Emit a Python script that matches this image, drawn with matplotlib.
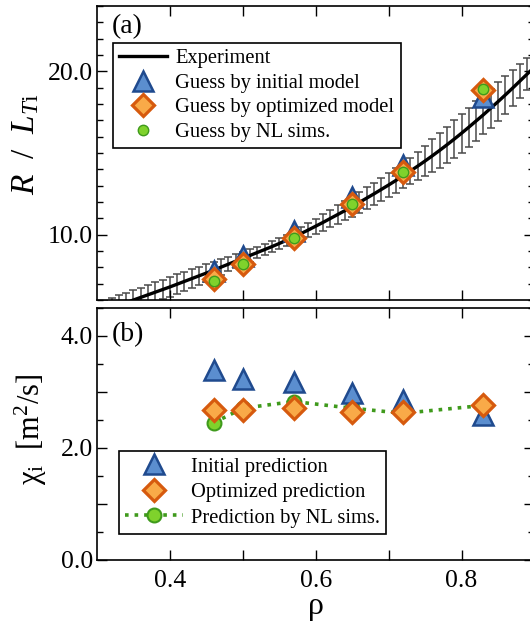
import matplotlib
matplotlib.use('Agg')
import matplotlib.pyplot as plt
from matplotlib.ticker import MultipleLocator, FixedLocator, FixedFormatter

plt.rcParams['font.family'] = ['Liberation Serif', 'DejaVu Serif']
plt.rcParams['mathtext.fontset'] = 'custom'
plt.rcParams['mathtext.rm'] = 'Liberation Serif'
plt.rcParams['mathtext.it'] = 'Liberation Serif:italic'

########### Datos ###########
# perfil experimental R/L_Ti con barras de error
rho_exp = [0.31, 0.32, 0.33, 0.34, 0.35, 0.36, 0.37, 0.38, 0.39, 0.40,
           0.41, 0.42, 0.43, 0.44, 0.45, 0.46, 0.47, 0.48, 0.49, 0.50,
           0.51, 0.52, 0.53, 0.54, 0.55, 0.56, 0.57, 0.58, 0.59, 0.60,
           0.61, 0.62, 0.63, 0.64, 0.65, 0.66, 0.67, 0.68, 0.69, 0.70,
           0.71, 0.72, 0.73, 0.74, 0.75, 0.76, 0.77, 0.78, 0.79, 0.80,
           0.81, 0.82, 0.83, 0.84, 0.85, 0.86, 0.87, 0.88, 0.89, 0.90]
rlt_exp = [5.36, 5.52, 5.68, 5.84, 6.00, 6.16, 6.32, 6.48, 6.64, 6.80,
           6.97, 7.14, 7.31, 7.48, 7.65, 7.83, 8.01, 8.19, 8.37, 8.55,
           8.73, 8.91, 9.09, 9.27, 9.46, 9.66, 9.86, 10.07, 10.29, 10.52,
           10.75, 10.99, 11.23, 11.47, 11.72, 11.98, 12.24, 12.50, 12.77, 13.04,
           13.32, 13.61, 13.90, 14.20, 14.51, 14.83, 15.16, 15.50, 15.85, 16.21,
           16.58, 16.96, 17.34, 17.74, 18.14, 18.55, 18.97, 19.40, 19.83, 20.26]
rlt_err = [0.60, 0.60, 0.60, 0.60, 0.60, 0.60, 0.60, 0.60, 0.60, 0.60,
           0.60, 0.60, 0.58, 0.56, 0.54, 0.50, 0.47, 0.44, 0.42, 0.40,
           0.38, 0.36, 0.35, 0.35, 0.35, 0.35, 0.36, 0.38, 0.42, 0.46,
           0.50, 0.54, 0.57, 0.60, 0.62, 0.65, 0.67, 0.69, 0.71, 0.73,
           0.75, 0.77, 0.82, 0.88, 0.94, 1.00, 1.06, 1.12, 1.16, 1.20,
           1.20, 1.20, 1.20, 1.20, 1.18, 1.15, 1.10, 1.04, 0.98, 0.92]

# radios de las simulaciones
rho_sim = [0.46, 0.50, 0.57, 0.65, 0.72, 0.83]

# (a) R/L_Ti estimado
rlt_init = [7.78, 8.70, 10.25, 12.30, 14.25, 18.45]
rlt_opt = [7.30, 8.22, 9.80, 11.90, 13.84, 18.88]
rlt_nl = [7.18, 8.22, 9.82, 11.90, 13.84, 18.90]

# (b) chi_i
chi_init = [3.39, 3.24, 3.17, 2.99, 2.86, 2.59]
chi_opt = [2.67, 2.67, 2.71, 2.65, 2.65, 2.77]
chi_nl = [2.45, 2.71, 2.83, 2.71, 2.62, 2.76]

########### Estilos ###########
c_tri_e, c_tri_f = '#1f4a8e', '#5b8ecf'
c_dia_e, c_dia_f = '#d65a0e', '#f9aa48'
c_cir_e, c_cir_f = '#3f9a1c', '#7fd22c'

fig = plt.figure(figsize=(5.30, 6.28), dpi=100)
W, H = 530.0, 628.0
x0, x1 = 97.0, 97.0 + 0.6 * 729.0
ax1 = fig.add_axes([x0 / W, 1 - 300 / H, (x1 - x0) / W, 294 / H])
ax2 = fig.add_axes([x0 / W, 1 - 560 / H, (x1 - x0) / W, 252 / H])

fs_tick = 18.5
fs_leg = 14.8
for ax in (ax1, ax2):
    ax.set_xlim(0.3, 0.9)
    ax.xaxis.set_major_locator(FixedLocator([0.4, 0.5, 0.6, 0.7, 0.8]))
    ax.tick_params(which='both', direction='in', top=True, right=True,
                   labelsize=fs_tick, width=1.0)
    ax.tick_params(which='major', length=7.5)
    ax.tick_params(which='minor', length=4.5)
    ax.tick_params(axis='y', pad=3)
    ax.tick_params(axis='x', pad=7)
    for s in ax.spines.values():
        s.set_linewidth(1.2)

#### Panel (a) ####
ax1.set_ylim(6, 24)
ax1.yaxis.set_minor_locator(MultipleLocator(1))
ax1.yaxis.set_major_locator(FixedLocator([0, 10, 20, 30]))
ax1.yaxis.set_major_formatter(FixedFormatter(['', '10.0', '20.0', '']))
ax1.tick_params(axis='x', labelbottom=False)

ax1.errorbar(rho_exp, rlt_exp, yerr=rlt_err, fmt='none', ecolor='#4a4a4a',
             elinewidth=1.1, capsize=3.2, capthick=1.1, zorder=1)
ax1.plot(rho_exp, rlt_exp, color='black', lw=2.4, zorder=2,
         label='Experiment')
ax1.plot(rho_sim, rlt_init, ls='none', marker='^', ms=14, mfc=c_tri_f,
         mec=c_tri_e, mew=1.8, zorder=3, label='Guess by initial model')
ax1.plot(rho_sim, rlt_opt, ls='none', marker='D', ms=11.5, mfc=c_dia_f,
         mec=c_dia_e, mew=2.3, zorder=4, label='Guess by optimized model')
ax1.plot(rho_sim, rlt_nl, ls='none', marker='o', ms=7.5, mfc=c_cir_f,
         mec=c_cir_e, mew=1.0, zorder=5, label='Guess by NL sims.')

leg1 = ax1.legend(loc='upper left', bbox_to_anchor=(0.036, 0.875),
                  borderaxespad=0, fontsize=fs_leg, frameon=True,
                  fancybox=False, edgecolor='black', framealpha=1,
                  numpoints=1, handlelength=2.35, handletextpad=0.4,
                  labelspacing=0.25, borderpad=0.3)
leg1.get_frame().set_linewidth(1.2)

ax1.text(0.034, 0.972, '(a)', transform=ax1.transAxes, fontsize=20,
         ha='left', va='top')
ax1.set_ylabel(r'$R\ \ /\ \ L_{T\mathrm{i}}$', fontsize=24)
ax1.yaxis.set_label_coords(-0.128, 0.53)

#### Panel (b) ####
ax2.set_ylim(0, 4.5)
ax2.yaxis.set_minor_locator(MultipleLocator(0.5))
ax2.yaxis.set_major_locator(FixedLocator([0, 1, 2, 3, 4]))
ax2.yaxis.set_major_formatter(FixedFormatter(['0.0', '', '2.0', '', '4.0']))
ax2.xaxis.set_major_formatter(FixedFormatter(['0.4', '', '0.6', '', '0.8']))

ax2.plot(rho_sim, chi_init, ls='none', marker='^', ms=15, mfc=c_tri_f,
         mec=c_tri_e, mew=1.8, zorder=3, label='Initial prediction')
ax2.plot(rho_sim, chi_opt, ls='none', marker='D', ms=11.5, mfc=c_dia_f,
         mec=c_dia_e, mew=2.3, zorder=4, label='Optimized prediction')
ax2.plot(rho_sim, chi_nl, ls=':', lw=2.6, color=c_cir_e, marker='o', ms=10,
         mfc=c_cir_f, mec=c_cir_e, mew=1.5, zorder=2,
         label='Prediction by NL sims.')

leg2 = ax2.legend(loc='upper left', bbox_to_anchor=(0.051, 0.4325),
                  borderaxespad=0, fontsize=fs_leg, frameon=True,
                  fancybox=False, edgecolor='black', framealpha=1,
                  numpoints=1, handlelength=2.8, handletextpad=0.4,
                  labelspacing=0.3, borderpad=0.3)
leg2.get_frame().set_linewidth(1.2)

ax2.text(0.034, 0.945, '(b)', transform=ax2.transAxes, fontsize=20,
         ha='left', va='top')
ax2.set_ylabel('χ$_\\mathrm{i}$  [m$^2$/s]', fontsize=22)
ax2.yaxis.set_label_coords(-0.11, 0.52)
ax2.set_xlabel('ρ', fontsize=23, labelpad=0)

fig.savefig('out.png', dpi=100)
